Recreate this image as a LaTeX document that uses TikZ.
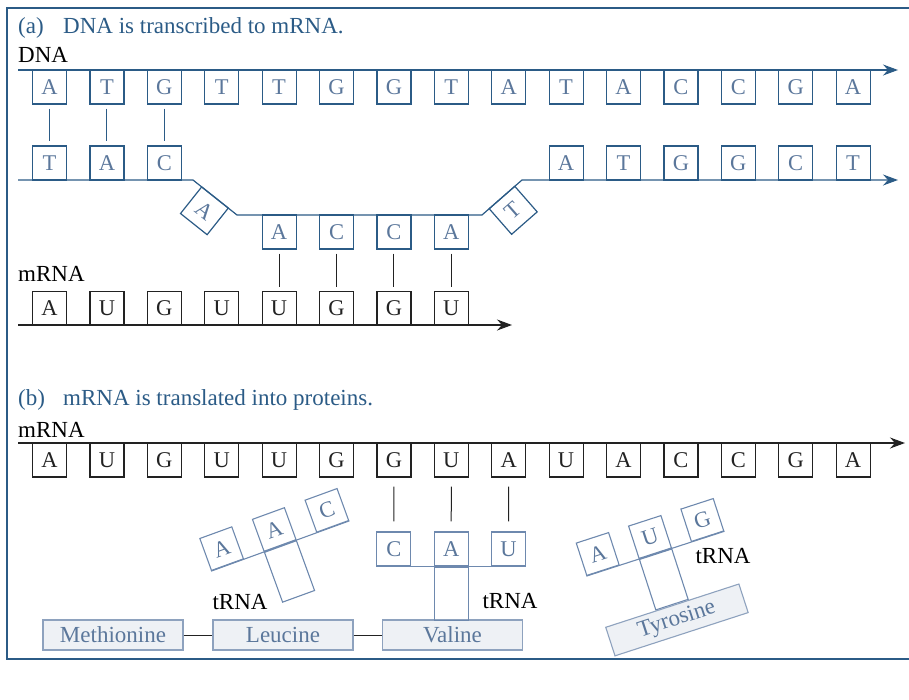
\documentclass[tikz,border=0pt]{standalone}
\usepackage{fontspec}
\setmainfont{Liberation Serif}
\usetikzlibrary{arrows.meta,calc}
\definecolor{dnablue}{HTML}{2B5B86}
\definecolor{letblue}{HTML}{5B779B}
\definecolor{trnablue}{HTML}{6E89AE}
\definecolor{aaedge}{HTML}{8EA2BE}
\definecolor{aafill}{HTML}{EEF1F5}
\definecolor{inkblack}{HTML}{222222}
\newcommand\ltrfont{\fontsize{22.5}{22.5}\selectfont}
\newcommand\aafont{\fontsize{23}{23}\selectfont}
\newcommand\lblfont{\fontsize{23}{23}\selectfont}
\begin{document}
\begin{tikzpicture}[x=1pt,y=-1pt,
  frame/.style={draw=dnablue, line width=2.6pt},
  strand/.style={draw=dnablue, line width=1.2pt},
  rnaline/.style={draw=inkblack, line width=1.2pt},
  tip/.style={-{Stealth[length=15pt,width=11pt,inset=5pt]}},
  dnabox/.style={draw=dnablue, line width=1.2pt, minimum size=34pt, inner sep=0pt, text=letblue, font=\ltrfont},
  rnabox/.style={draw=inkblack, line width=1.2pt, minimum size=34pt, inner sep=0pt, text=inkblack, font=\ltrfont},
  trnabox/.style={draw=trnablue, line width=1.1pt, minimum size=34pt, inner sep=0pt, text=letblue, font=\ltrfont},
  stembox/.style={draw=trnablue, line width=1.1pt, minimum width=34pt, minimum height=53pt, inner sep=0pt},
  aabox/.style={draw=aaedge, fill=aafill, line width=1.1pt, minimum width=140pt, minimum height=30pt, inner sep=0pt, text=letblue, font=\aafont},
  dnabond/.style={draw=dnablue, line width=1pt, shorten <=4pt, shorten >=4pt},
  rnabond/.style={draw=inkblack, line width=1pt, shorten <=4pt, shorten >=4pt},
  tbond/.style={draw=inkblack, line width=1pt, shorten <=9pt, shorten >=10pt},
  title/.style={anchor=base west, text=dnablue, font=\lblfont, inner sep=0pt},
  label/.style={anchor=base west, text=black, font=\lblfont, inner sep=0pt},
  clabel/.style={anchor=base, text=black, font=\lblfont, inner sep=0pt}]
\useasboundingbox (0,0) rectangle (909,699);
% frame
\draw[frame] (912,8) -- (7,8) -- (7,659) -- (912,659);

% ---------- (a) ----------
\node[title] (ta) at (18,33) {(a)};
\node[title] (tta) at (63,33) {DNA is transcribed to mRNA.};
\node[label] (dnalbl) at (18,62) {DNA};

% top strand
\coordinate (L1) at (18,70);
\coordinate (R1) at (898,70);
\draw[strand,tip,dnablue] (L1) -- (R1);
\foreach \l [count=\i] in {A,T,G,T,T,G,G,T,A,T,A,C,C,G,A}
  \node[dnabox] (t\i) at ({49.5+57.4*(\i-1)},87) {\l};

% bottom strand
\coordinate (L2) at (18,180);
\coordinate (B1) at (193,180);
\coordinate (B2) at (237,215);
\coordinate (B3) at (482,215);
\coordinate (B4) at (522,180);
\coordinate (R2) at (898,180);
\draw[strand,tip,dnablue] (L2) -- (B1) -- (B2) -- (B3) -- (B4) -- (R2);
\foreach \l/\i in {T/1,A/2,C/3,A/10,T/11,G/12,G/13,C/14,T/15}
  \node[dnabox] (s\i) at ({49.5+57.4*(\i-1)},163) {\l};
\foreach \l/\i in {A/5,C/6,C/7,A/8}
  \node[dnabox] (m\i) at ({49.5+57.4*(\i-1)},232) {\l};
\node[dnabox, rotate=-38.5] (d4) at (204.4,210.8) {A};
\node[dnabox, rotate=41.2] (d9) at (513.2,210.3) {T};
\foreach \i in {1,2,3}
  \draw[dnabond] (t\i) -- (s\i);

% mRNA (a)
\node[label] (mlbla) at (18,281) {mRNA};
\coordinate (L3) at (18,325);
\coordinate (R3) at (512,325);
\draw[rnaline,tip] (L3) -- (R3);
\foreach \l [count=\i] in {A,U,G,U,U,G,G,U}
  \node[rnabox] (r\i) at ({49.5+57.4*(\i-1)},308.5) {\l};
\foreach \i in {5,6,7,8}
  \draw[rnabond] (m\i) -- (r\i);

% ---------- (b) ----------
\node[title] (tb) at (18,405) {(b)};
\node[title] (ttb) at (63,405) {mRNA is translated into proteins.};
\node[label] (mlblb) at (18,437) {mRNA};
\coordinate (L4) at (18,443);
\coordinate (R4) at (905,443);
\draw[rnaline,tip] (L4) -- (R4);
\foreach \l [count=\i] in {A,U,G,U,U,G,G,U,A,U,A,C,C,G,A}
  \node[rnabox] (q\i) at ({49.5+57.4*(\i-1)},460) {\l};

% amino acids
\node[aabox] (met) at (113,635) {Methionine};
\node[aabox] (leu) at (283,635) {Leucine};
\node[aabox] (val) at (452.5,635) {Valine};
\draw[rnaline, line width=1pt] (met) -- (leu);
\draw[rnaline, line width=1pt] (leu) -- (val);

% middle tRNA (Valine)
\node[trnabox] (vC) at (393.8,549) {C};
\node[trnabox] (vA) at (451.2,549) {A};
\node[trnabox] (vU) at (508.6,549) {U};
\draw[draw=trnablue, line width=1.1pt] (vC.south west) -- (vU.south east);
\node[stembox, anchor=north] (vS) at (vA.south) {};
\draw[tbond] (q7) -- (vC);
\draw[tbond] (q8) -- (vA);
\draw[tbond] (q9) -- (vU);
\node[clabel] (tl2) at (510,608) {tRNA};

% left tRNA (rotated)
\begin{scope}[shift={(274.25,529.5)}, rotate=20, transform shape]
  \node[trnabox] (lA1) at (-56,0) {A};
  \node[trnabox] (lA2) at (0,0) {A};
  \node[trnabox] (lC) at (56,0) {C};
  \draw[draw=trnablue, line width=1.1pt] (lA1.south west) -- (lC.south east);
  \node[stembox, anchor=north] (lS) at (lA2.south) {};
\end{scope}
\node[clabel] (tl1) at (240,609) {tRNA};

% right tRNA (rotated, Tyrosine)
\begin{scope}[shift={(650,537)}, rotate=18, transform shape]
  \node[trnabox] (yA) at (-55,0) {A};
  \node[trnabox] (yU) at (0,0) {U};
  \node[trnabox] (yG) at (55,0) {G};
  \draw[draw=trnablue, line width=1.1pt] (yA.south west) -- (yG.south east);
  \node[stembox, anchor=north] (yS) at (yU.south) {};
  \node[aabox, anchor=north] (tyr) at (yS.south) {Tyrosine};
\end{scope}
\node[clabel] (tl3) at (723,563) {tRNA};
\end{tikzpicture}
\end{document}
